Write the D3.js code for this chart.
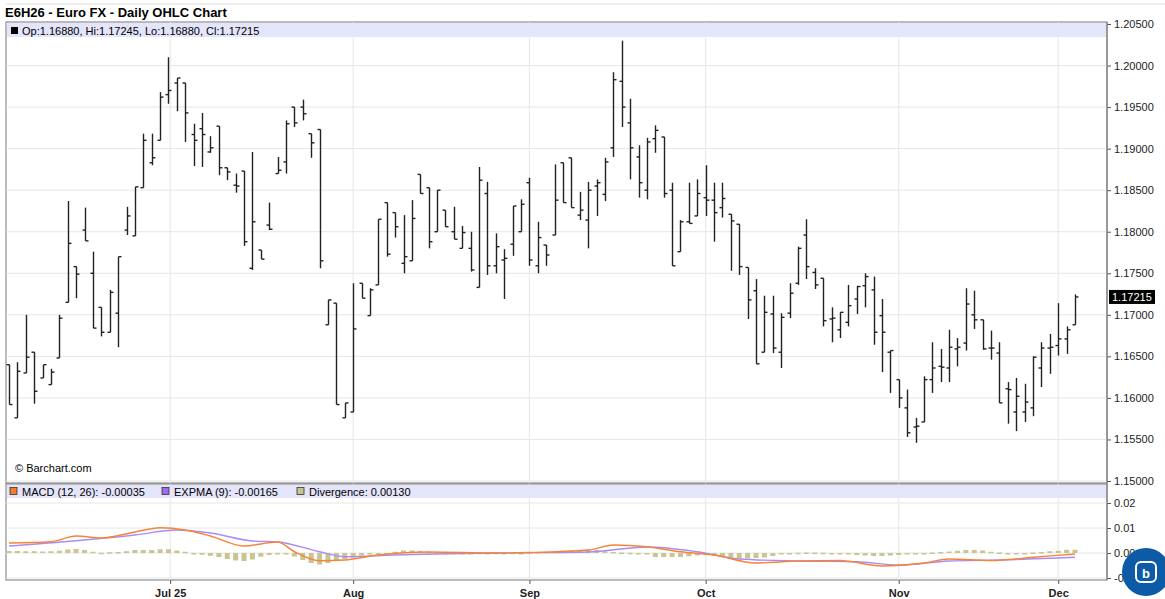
<!DOCTYPE html>
<html><head><meta charset="utf-8">
<script src="https://cdn.jsdelivr.net/npm/d3@7"></script>
<style>body{margin:0;background:#fff;font-family:"Liberation Sans",Arial,sans-serif}</style>
</head><body><svg id="c" width="1165" height="599"></svg>
<script>
const opens=[1.1640,1.1576,1.1630,1.1655,1.1624,1.1616,1.1648,1.1715,1.1758,1.1802,1.1750,1.1709,1.1679,1.1702,1.1802,1.1795,1.1853,1.1883,1.1910,1.1965,1.1979,1.1979,1.1917,1.1924,1.1896,1.1927,1.1877,1.1856,1.1873,1.1756,1.1778,1.1808,1.1870,1.1884,1.1950,1.1950,1.1918,1.1923,1.1688,1.1714,1.1576,1.1583,1.1738,1.1699,1.1736,1.1835,1.1823,1.1762,1.1765,1.1869,1.1853,1.1800,1.1826,1.1800,1.1780,1.1780,1.1733,1.1846,1.1759,1.1766,1.1785,1.1800,1.1859,1.1759,1.1784,1.1796,1.1883,1.1889,1.1820,1.1814,1.1855,1.1845,1.1901,1.1981,1.1931,1.1890,1.1850,1.1912,1.1914,1.1850,1.1776,1.1812,1.1819,1.1841,1.1838,1.1829,1.1821,1.1809,1.1757,1.1729,1.1655,1.1701,1.1655,1.1702,1.1738,1.1796,1.1751,1.1744,1.1695,1.1682,1.1691,1.1719,1.1735,1.1730,1.1699,1.1655,1.1622,1.1588,1.1565,1.1571,1.1622,1.1638,1.1636,1.1659,1.1666,1.1700,1.1694,1.1660,1.1654,1.1611,1.1583,1.1583,1.1588,1.1636,1.1660,1.1663,1.1671,1.1688];
const highs=[1.1640,1.1643,1.1700,1.1655,1.1640,1.1635,1.1700,1.1837,1.1758,1.1829,1.1776,1.1709,1.1730,1.1770,1.1830,1.1854,1.1918,1.1918,1.1968,1.2010,1.1985,1.1979,1.1930,1.1943,1.1915,1.1927,1.1877,1.1870,1.1873,1.1896,1.1778,1.1835,1.1890,1.1934,1.1950,1.1959,1.1918,1.1923,1.1718,1.1714,1.1594,1.1738,1.1738,1.1732,1.1815,1.1835,1.1823,1.1820,1.1838,1.1869,1.1853,1.1850,1.1826,1.1830,1.1807,1.1800,1.1878,1.1860,1.1798,1.1779,1.1831,1.1839,1.1865,1.1812,1.1784,1.1881,1.1883,1.1889,1.1848,1.1860,1.1863,1.1889,1.1992,1.2030,1.1960,1.1904,1.1913,1.1928,1.1914,1.1859,1.1814,1.1859,1.1863,1.1880,1.1859,1.1859,1.1821,1.1809,1.1757,1.1743,1.1723,1.1723,1.1702,1.1738,1.1782,1.1815,1.1756,1.1744,1.1709,1.1703,1.1736,1.1735,1.1750,1.1746,1.1719,1.1657,1.1622,1.1610,1.1576,1.1626,1.1667,1.1659,1.1682,1.1672,1.1732,1.1729,1.1694,1.1681,1.1667,1.1619,1.1624,1.1617,1.1650,1.1667,1.1677,1.1714,1.1686,1.17245];
const lows=[1.1592,1.1576,1.1630,1.1593,1.1624,1.1616,1.1648,1.1715,1.1720,1.1789,1.1684,1.1674,1.1679,1.1661,1.1796,1.1795,1.1853,1.1880,1.1910,1.1954,1.1945,1.1908,1.1879,1.1878,1.1895,1.1868,1.1862,1.1847,1.1783,1.1754,1.1767,1.1802,1.1870,1.1870,1.1926,1.1934,1.1889,1.1756,1.1688,1.1592,1.1576,1.1583,1.1720,1.1699,1.1736,1.1770,1.1793,1.1750,1.1765,1.1846,1.1780,1.1800,1.1806,1.1791,1.1780,1.1752,1.1733,1.1748,1.1750,1.1719,1.1771,1.1800,1.1759,1.1750,1.1759,1.1796,1.1835,1.1829,1.1814,1.1780,1.1819,1.1837,1.1890,1.1926,1.1863,1.1841,1.1839,1.1895,1.1841,1.1759,1.1776,1.1810,1.1819,1.1819,1.1788,1.1817,1.1753,1.1748,1.1695,1.1641,1.1655,1.1654,1.1636,1.1696,1.1736,1.1743,1.1731,1.1686,1.1667,1.1672,1.1686,1.1701,1.1709,1.1664,1.1631,1.1606,1.1588,1.1553,1.1546,1.1571,1.1606,1.1619,1.1619,1.1638,1.1657,1.1683,1.1658,1.1646,1.1594,1.1569,1.1560,1.1571,1.1578,1.1613,1.1629,1.1651,1.1653,1.1688];
const closes=[1.1592,1.1632,1.1649,1.1608,1.1640,1.1631,1.1696,1.1786,1.1749,1.1789,1.1684,1.1679,1.1727,1.1770,1.1819,1.1854,1.1910,1.1889,1.1962,1.1970,1.1985,1.1943,1.1910,1.1917,1.1901,1.1877,1.1872,1.1855,1.1788,1.1812,1.1767,1.1803,1.1874,1.1930,1.1931,1.1942,1.1907,1.1765,1.1718,1.1592,1.1594,1.1683,1.1720,1.1730,1.1815,1.1773,1.1806,1.1770,1.1816,1.1846,1.1788,1.1850,1.1806,1.1791,1.1799,1.1754,1.1862,1.1759,1.1782,1.1768,1.1831,1.1833,1.1766,1.1793,1.1772,1.1838,1.1835,1.1829,1.1826,1.1850,1.1859,1.1884,1.1983,1.1950,1.1901,1.1859,1.1908,1.1922,1.1846,1.1759,1.1812,1.1810,1.1846,1.1838,1.1823,1.1840,1.1813,1.1758,1.1718,1.1641,1.1703,1.1660,1.1697,1.1726,1.1780,1.1758,1.1736,1.1693,1.1696,1.1703,1.1711,1.1734,1.1746,1.1679,1.1679,1.1657,1.1600,1.1558,1.1566,1.1622,1.1636,1.1637,1.1661,1.1661,1.1713,1.1694,1.1659,1.1660,1.1594,1.1610,1.1602,1.1595,1.1649,1.1660,1.1661,1.1671,1.1682,1.17215];
const divergence=[0.0008,0.0008,0.0007,0.0007,0.0006,0.0007,0.0009,0.0014,0.0016,0.0012,0.0005,0.0001,0.0003,0.0004,0.0007,0.0012,0.0012,0.0012,0.0015,0.0015,0.0010,0.0005,-0.0003,-0.0007,-0.0011,-0.0016,-0.0024,-0.0030,-0.0032,-0.0026,-0.0015,-0.0008,-0.0004,-0.0006,-0.0014,-0.0028,-0.0040,-0.0046,-0.0040,-0.0032,-0.0024,-0.0018,-0.0010,-0.0005,-0.0002,0.0000,0.0005,0.0010,0.0010,0.0008,0.0005,0.0003,0.0001,0.0001,0.0000,-0.0001,0.0001,0.0000,0.0001,0.0000,0.0001,0.0000,0.0003,0.0004,0.0005,0.0006,0.0008,0.0010,0.0012,0.0014,0.0012,0.0007,0.0004,0.0002,0.0001,0.0000,-0.0003,-0.0016,-0.0016,-0.0016,-0.0016,-0.0013,-0.0010,-0.0008,-0.0010,-0.0013,-0.0018,-0.0022,-0.0022,-0.0020,-0.0018,-0.0012,-0.0006,-0.0003,0.0001,0.0002,0.0002,0.0001,0.0000,-0.0003,-0.0005,-0.0008,-0.0010,-0.0012,-0.0012,-0.0010,-0.0008,-0.0005,-0.0003,0.0000,0.0002,0.0004,0.0006,0.0009,0.0012,0.0012,0.0010,0.0005,0.0002,0.0000,-0.0002,0.0000,0.0002,0.0004,0.0007,0.0009,0.0013,0.0013];
const macdIdx=[0,5,8,11,15,18,21,24,28,32,34,37,40,44,50,58,62,69,72,76,80,84,89,94,99,104,109,112,117,122,127];
const macdVal=[0.0040,0.0045,0.0068,0.0060,0.0084,0.0101,0.0092,0.0068,0.0028,0.0044,0.0005,-0.0031,-0.0028,-0.0008,0.0004,0.0000,0.0002,0.0012,0.0032,0.0025,0.0005,-0.0008,-0.0040,-0.0032,-0.0030,-0.0052,-0.0040,-0.0024,-0.0030,-0.0017,-0.0004];
const expIdx=[0,8,15,20,24,29,32,37,40,46,58,69,76,82,87,94,101,106,112,118,127];
const expVal=[0.0028,0.0049,0.0072,0.0092,0.0080,0.0048,0.0044,0.0005,-0.0015,-0.0008,0.0000,0.0004,0.0024,0.0005,-0.0024,-0.0032,-0.0035,-0.0048,-0.0032,-0.0028,-0.0017];
const priceTicks=[1.150,1.155,1.160,1.165,1.170,1.175,1.180,1.185,1.190,1.195,1.200,1.205];
const macdTicks=[0.02,0.01,0.00,-0.01];
const monthIdx=[19.2,41,62,83,106,125];
const monthLabels=["Jul 25","Aug","Sep","Oct","Nov","Dec"];

const svg=d3.select("#c");
const L=6,R=1107,T1=22,B1=483,T2=484,B2=580;
const x=d3.scaleLinear().domain([0,127]).range([9,1075]);
const y=d3.scaleLinear().domain([1.15,1.205]).range([481,24]);
const y2=d3.scaleLinear().domain([-0.01,0.02]).range([578,503]);

svg.append("text").attr("x",5).attr("y",17).attr("font-size",13).attr("font-weight","bold").text("E6H26 - Euro FX - Daily OHLC Chart");
svg.append("line").attr("x1",L).attr("x2",1165).attr("y1",4).attr("y2",4).attr("stroke","#ddd");

function panel(t,b){
  svg.append("rect").attr("x",L).attr("y",t).attr("width",R-L).attr("height",b-t).attr("fill","#fff").attr("stroke","#777");
}
panel(T1,B1);panel(T2,B2);
const g=svg.append("g").attr("stroke","#e6e6e6");
priceTicks.forEach(v=>g.append("line").attr("x1",L).attr("x2",R).attr("y1",y(v)).attr("y2",y(v)));
macdTicks.forEach(v=>g.append("line").attr("x1",L).attr("x2",R).attr("y1",y2(v)).attr("y2",y2(v)));
monthIdx.forEach(i=>{g.append("line").attr("x1",x(i)).attr("x2",x(i)).attr("y1",T1).attr("y2",B1);g.append("line").attr("x1",x(i)).attr("x2",x(i)).attr("y1",T2).attr("y2",B2);});
svg.append("rect").attr("x",L+1).attr("y",T1+1).attr("width",R-L-2).attr("height",14).attr("fill","#e4e4fb");
svg.append("rect").attr("x",11).attr("y",27).attr("width",7).attr("height",7).attr("fill","#000");
svg.append("text").attr("x",22).attr("y",34.5).attr("font-size",11).text("Op:1.16880, Hi:1.17245, Lo:1.16880, Cl:1.17215");
svg.append("rect").attr("x",L+1).attr("y",T2+1).attr("width",R-L-2).attr("height",13).attr("fill","#e4e4fb");
[["#f57c2a","MACD (12, 26): -0.00035",10],["#9b6cf0","EXPMA (9): -0.00165",162],["#c8c48e","Divergence: 0.00130",297]].forEach(([c,t,xx])=>{
  svg.append("rect").attr("x",xx).attr("y",487.5).attr("width",7).attr("height",7).attr("fill",c).attr("stroke","#333").attr("stroke-width",0.8);
  svg.append("text").attr("x",xx+12).attr("y",495.5).attr("font-size",11).text(t);
});
svg.append("text").attr("x",15).attr("y",472).attr("font-size",11).text("© Barchart.com");
const bars=svg.append("g").attr("stroke","#222").attr("stroke-width",1.4);
opens.forEach((o,i)=>{
  const cx=Math.round(x(i))+0.5;
  bars.append("line").attr("x1",cx).attr("x2",cx).attr("y1",y(highs[i])).attr("y2",y(lows[i]));
  bars.append("line").attr("x1",cx-3).attr("x2",cx).attr("y1",y(o)).attr("y2",y(o));
  bars.append("line").attr("x1",cx).attr("x2",cx+3).attr("y1",y(closes[i])).attr("y2",y(closes[i]));
});
svg.append("g").selectAll("rect").data(divergence).join("rect")
 .attr("x",(d,i)=>x(i)-2.5).attr("width",5)
 .attr("y",d=>Math.min(y2(d),y2(0))).attr("height",d=>Math.max(1.5,Math.abs(y2(d)-y2(0))))
 .attr("fill","#c9c58f");
const ln=d3.line().curve(d3.curveMonotoneX);
svg.append("path").attr("d",ln(expIdx.map((i,k)=>[x(i),y2(expVal[k])]))).attr("fill","none").attr("stroke","#a98cf5").attr("stroke-width",1.4);
svg.append("path").attr("d",ln(macdIdx.map((i,k)=>[x(i),y2(macdVal[k])]))).attr("fill","none").attr("stroke","#f5843a").attr("stroke-width",1.4);
const ay=svg.append("g").attr("transform",`translate(${R},0)`).call(d3.axisRight(y).tickValues(priceTicks).tickSize(4).tickFormat(d3.format(".5f")));
const ay2=svg.append("g").attr("transform",`translate(${R},0)`).call(d3.axisRight(y2).tickValues(macdTicks).tickSize(4).tickFormat(d=>d===-0.01?"-0.0":d3.format(".2f")(d)));
[ay,ay2].forEach(a=>{a.select(".domain").remove();a.selectAll("text").attr("font-size",11).attr("fill","#222").attr("font-family","Liberation Sans,Arial");a.selectAll("line").attr("stroke","#555");});
svg.append("line").attr("x1",R).attr("x2",R).attr("y1",T1).attr("y2",B2).attr("stroke","#777");
const lp=closes[closes.length-1];
svg.append("rect").attr("x",R+2).attr("y",y(lp)-7).attr("width",46).attr("height",14).attr("fill","#000");
svg.append("text").attr("x",R+5).attr("y",y(lp)+4).attr("font-size",11).attr("fill","#fff").text(d3.format(".5f")(lp));
const ax=svg.append("g").attr("transform",`translate(0,${B2})`).call(d3.axisBottom(x).tickValues(monthIdx).tickSize(4).tickFormat((d,i)=>monthLabels[i]));
ax.select(".domain").remove();
ax.selectAll("text").attr("font-size",11).attr("font-weight","bold").attr("fill","#222").attr("dy","0.9em");
ax.selectAll("line").attr("stroke","#555");
svg.append("circle").attr("cx",1146).attr("cy",572).attr("r",24).attr("fill","#0d5aa7");
svg.append("rect").attr("x",1136).attr("y",562).attr("width",20).attr("height",20).attr("rx",5).attr("fill","none").attr("stroke","#fff").attr("stroke-width",2);
svg.append("text").attr("x",1146).attr("y",578).attr("text-anchor","middle").attr("font-size",13).attr("font-weight","bold").attr("fill","#fff").text("b");
</script></body></html>
